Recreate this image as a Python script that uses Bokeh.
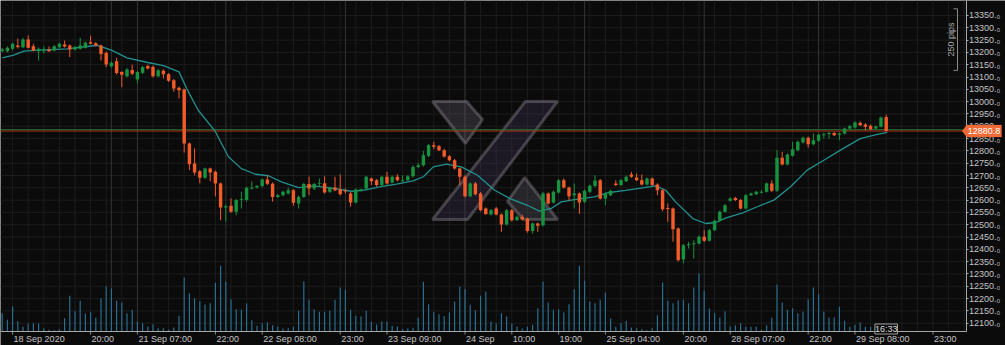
import math
from bokeh.plotting import figure
from bokeh.models import Range1d, FixedTicker, ColumnDataSource, Label, PolyAnnotation
from bokeh.core.properties import value
from bokeh.embed import file_html
from bokeh.resources import INLINE

# ---------------- data (hourly candles, 18 Sep 2020 -> 29 Sep 2020) ----------------
opens = [
    13206, 13205, 13215, 13228, 13221, 13252, 13225, 13205, 13207, 13211,
    13208, 13221, 13232, 13228, 13212, 13215, 13219, 13241, 13237, 13228,
    13198, 13144, 13164, 13120, 13103, 13129, 13090, 13117, 13145, 13141,
    13103, 13125, 13111, 13087, 13056, 13049, 12830, 12749, 12717, 12691,
    12728, 12715, 12668, 12570, 12577, 12553, 12602, 12600, 12647, 12651,
    12657, 12684, 12666, 12613, 12620, 12627, 12640, 12586, 12613, 12665,
    12647, 12667, 12669, 12634, 12651, 12643, 12639, 12627, 12590, 12638,
    12647, 12688, 12681, 12661, 12695, 12672, 12695, 12680, 12681, 12697,
    12735, 12742, 12780, 12823, 12819, 12803, 12778, 12762, 12728, 12695,
    12616, 12668, 12627, 12566, 12542, 12566, 12542, 12501, 12559, 12518,
    12532, 12525, 12475, 12505, 12498, 12627, 12590, 12631, 12681, 12651,
    12620, 12627, 12593, 12634, 12657, 12681, 12607, 12620, 12668, 12661,
    12677, 12704, 12692, 12681, 12663, 12688, 12663, 12640, 12568, 12566,
    12485, 12359, 12418, 12423, 12424, 12451, 12435, 12478, 12516, 12553,
    12597, 12609, 12600, 12566, 12620, 12624, 12632, 12634, 12668, 12638,
    12772, 12745, 12780, 12803, 12834, 12853, 12827, 12841, 12864, 12869,
    12873, 12866, 12871, 12891, 12895, 12914, 12907, 12902, 12891, 12898,
    12938,
]
highs = [
    13218, 13224, 13240, 13256, 13259, 13269, 13235, 13220, 13224, 13224,
    13230, 13240, 13248, 13232, 13226, 13259, 13244, 13269, 13242, 13232,
    13204, 13163, 13178, 13124, 13137, 13150, 13124, 13145, 13151, 13147,
    13133, 13131, 13116, 13092, 13061, 13053, 12834, 12810, 12722, 12732,
    12732, 12720, 12672, 12582, 12607, 12605, 12634, 12655, 12676, 12661,
    12688, 12701, 12672, 12625, 12639, 12651, 12645, 12619, 12670, 12695,
    12670, 12688, 12697, 12655, 12695, 12705, 12647, 12633, 12647, 12647,
    12698, 12692, 12686, 12699, 12715, 12700, 12705, 12701, 12702, 12742,
    12751, 12800, 12828, 12837, 12824, 12808, 12783, 12767, 12732, 12700,
    12672, 12674, 12633, 12570, 12564, 12572, 12546, 12564, 12564, 12538,
    12542, 12529, 12509, 12509, 12633, 12631, 12639, 12686, 12688, 12655,
    12668, 12631, 12643, 12663, 12701, 12686, 12631, 12643, 12681, 12686,
    12700, 12715, 12708, 12704, 12692, 12692, 12668, 12645, 12586, 12570,
    12489, 12422, 12431, 12437, 12456, 12478, 12483, 12521, 12558, 12584,
    12611, 12613, 12605, 12625, 12631, 12638, 12641, 12672, 12681, 12803,
    12796, 12789, 12837, 12842, 12858, 12858, 12871, 12871, 12873, 12877,
    12877, 12875, 12895, 12905, 12921, 12919, 12913, 12907, 12903, 12940,
    12948,
]
lows = [
    13200, 13200, 13208, 13216, 13218, 13216, 13204, 13167, 13196, 13202,
    13204, 13218, 13220, 13181, 13208, 13212, 13216, 13232, 13224, 13167,
    13140, 13139, 13110, 13059, 13098, 13108, 13074, 13112, 13131, 13098,
    13098, 13094, 13080, 13040, 13013, 12793, 12722, 12701, 12668, 12686,
    12676, 12615, 12518, 12513, 12548, 12539, 12566, 12594, 12643, 12647,
    12651, 12661, 12594, 12609, 12615, 12623, 12577, 12566, 12609, 12620,
    12641, 12654, 12627, 12629, 12636, 12619, 12627, 12573, 12586, 12635,
    12643, 12661, 12655, 12655, 12663, 12668, 12676, 12674, 12678, 12692,
    12730, 12736, 12775, 12807, 12799, 12773, 12758, 12724, 12661, 12611,
    12611, 12619, 12554, 12540, 12538, 12538, 12471, 12497, 12513, 12515,
    12517, 12468, 12464, 12471, 12493, 12582, 12586, 12627, 12647, 12598,
    12566, 12544, 12588, 12629, 12652, 12602, 12579, 12616, 12657, 12657,
    12674, 12690, 12678, 12659, 12659, 12657, 12620, 12555, 12512, 12431,
    12351, 12343, 12403, 12363, 12420, 12430, 12432, 12475, 12513, 12550,
    12594, 12596, 12562, 12562, 12617, 12621, 12627, 12631, 12633, 12633,
    12741, 12741, 12776, 12799, 12830, 12813, 12823, 12837, 12850, 12850,
    12860, 12843, 12866, 12887, 12891, 12901, 12883, 12884, 12887, 12895,
    12879,
]
closes = [
    13212, 13219, 13235, 13222, 13252, 13219, 13208, 13215, 13209, 13205,
    13225, 13235, 13224, 13212, 13221, 13228, 13239, 13235, 13228, 13194,
    13151, 13158, 13116, 13109, 13131, 13113, 13120, 13140, 13135, 13103,
    13128, 13111, 13085, 13053, 13046, 12830, 12746, 12712, 12691, 12728,
    12712, 12668, 12570, 12575, 12553, 12600, 12605, 12650, 12651, 12657,
    12684, 12666, 12613, 12620, 12634, 12640, 12589, 12613, 12665, 12647,
    12665, 12669, 12631, 12651, 12640, 12624, 12637, 12590, 12643, 12643,
    12695, 12677, 12661, 12695, 12668, 12695, 12681, 12681, 12697, 12735,
    12742, 12782, 12823, 12817, 12803, 12777, 12762, 12728, 12695, 12616,
    12668, 12624, 12559, 12544, 12559, 12542, 12501, 12559, 12518, 12532,
    12521, 12475, 12505, 12496, 12627, 12586, 12634, 12681, 12651, 12616,
    12627, 12590, 12638, 12658, 12680, 12607, 12627, 12638, 12661, 12681,
    12695, 12695, 12681, 12663, 12688, 12661, 12640, 12563, 12565, 12482,
    12356, 12417, 12421, 12425, 12451, 12435, 12478, 12516, 12553, 12579,
    12607, 12600, 12566, 12620, 12627, 12634, 12634, 12668, 12638, 12772,
    12745, 12785, 12807, 12837, 12853, 12827, 12843, 12866, 12868, 12873,
    12864, 12871, 12891, 12900, 12915, 12904, 12898, 12888, 12899, 12936,
    12880.8,
]
volumes = [
    1830, 1170, 2500, 1030, 470, 800, 830, 800, 300, 170,
    130, 230, 1330, 3570, 2030, 3070, 1800, 1930, 1370, 3330,
    4500, 4300, 3070, 2900, 1830, 2170, 1000, 830, 500, 730,
    330, 330, 170, 400, 1570, 5400, 3830, 3330, 3030, 2700,
    2830, 4870, 6570, 4970, 3230, 2230, 2170, 2830, 1130, 570,
    830, 900, 630, 500, 300, 330, 470, 2070, 5000, 3170,
    2230, 1970, 1970, 2070, 3170, 4400, 4170, 2170, 1570, 1500,
    2070, 970, 700, 1000, 1000, 570, 500, 230, 300, 370,
    1370, 4970, 2730, 1970, 1730, 1530, 1900, 3000, 4500, 4230,
    2670, 2130, 3570, 4000, 1000, 800, 1830, 1500, 800, 500,
    300, 470, 670, 2330, 5000, 2900, 2170, 2230, 1900, 2730,
    4230, 6570, 5070, 3000, 2830, 3170, 3900, 1300, 470, 830,
    1070, 400, 330, 230, 130, 330, 1630, 4900, 3070, 2830,
    3130, 3170, 2830, 4400, 5830, 4070, 2300, 1870, 1400, 2030,
    500, 630, 830, 470, 470, 470, 170, 630, 1370, 4700,
    2900, 2170, 2330, 1830, 2000, 3230, 4400, 3730, 2000, 1400,
    1430, 2470, 1070, 470, 670, 900, 470, 470, 500, 500,
    300,
]
# moving average (candle index, value)
ma_x = [0, 2.2, 4.2, 6, 12.5, 18.3, 21, 24, 28, 31, 34, 35.5, 37.7, 41, 43.5, 46, 48.7,
        51.2, 53.7, 57, 59.8, 63, 67.2, 69.4, 72.6, 75.8, 79, 81, 82.9, 85.4, 88.3,
        91.4, 94.7, 97.9, 101, 103.3, 105.6, 107.5, 110.6, 113.9, 116.7, 119.9, 125.7,
        127.6, 129.5, 132.8, 135.3, 137.2, 139.2, 142.4, 145.2, 148.4, 151.6, 154.8,
        158, 161.2, 165, 168.3, 170.2]
ma_val = [13178, 13189, 13205, 13208, 13214, 13229, 13209, 13178, 13159, 13146, 13121,
          13052, 12965, 12878, 12776, 12728, 12705, 12699, 12674, 12651, 12658, 12650,
          12636, 12640, 12654, 12665, 12678, 12695, 12735, 12746, 12735, 12701, 12640,
          12604, 12579, 12555, 12566, 12593, 12604, 12613, 12631, 12640, 12658, 12640,
          12593, 12525, 12505, 12509, 12528, 12548, 12573, 12600, 12654, 12722, 12762,
          12803, 12850, 12867, 12875]
tick_idx = [2, 17, 26, 41, 50, 65, 74, 89, 98, 107, 116, 131, 140, 155, 164, 179]
tick_labels = ["18 Sep 2020", "20:00", "21 Sep 07:00", "22:00", "22 Sep 08:00", "23:00",
               "23 Sep 09:00", "24 Sep", "10:00", "19:00", "25 Sep 04:00", "20:00",
               "28 Sep 07:00", "22:00", "29 Sep 08:00", "23:00"]
session_idx = [21, 26, 43, 66, 89, 112, 135, 157]
price_ticks = list(range(12100, 13351, 50))
last_price = 12880.8
ask_price = 12886.5
last_time = "16:33"
pips_top = 13377
pips = 250

# ---------------- style / layout ----------------
BG = "#0b0b0b"
UP = "#17933f"
DOWN = "#f25c2a"
MA = "#21908f"
VOL = "#2a6d8e"
GRID = "#1c1c1c"
SESS = "#333333"
TXT = "#c4c4c4"
AXIS = "#a8a8a8"
FONT = "Liberation Sans"
FS = 9  # px

W, H = 1005, 345
PX0, PXS = 1.7, 5.2          # pixel of candle 0, pixels per candle
AX_X, AX_Y = 965.5, 331      # pixel position of the price axis and time axis
Y_TOP = 13410.85
PPP = 4.062                  # price units per pixel

def px2x(px):
    return (px - PX0) / PXS

def py2y(py):
    return Y_TOP - py * PPP

# approximate Arial/Liberation Sans advance widths (per 1000 em)
_CW = {" ": 278, ":": 278, ".": 278, "S": 667, "e": 556, "p": 556}
def text_w(s):
    return sum(_CW.get(ch, 556) for ch in s) * FS / 1000.0

n = len(opens)
idx = list(range(n))
colors = [UP if c >= o else DOWN for o, c in zip(opens, closes)]
btop = [max(o, c) for o, c in zip(opens, closes)]
bbot = [min(min(o, c), max(o, c) - 4) for o, c in zip(opens, closes)]
src = ColumnDataSource(dict(x=idx, h=highs, l=lows, top=btop, bot=bbot, color=colors,
                            vol=volumes, zero=[0] * n))

p = figure(width=W, height=H, output_backend="svg", toolbar_location=None,
           x_range=Range1d(px2x(0), px2x(W)), y_range=Range1d(py2y(H), Y_TOP),
           x_axis_location="below", y_axis_location="right",
           background_fill_color=BG, border_fill_color=BG, outline_line_color=None,
           min_border=0)
p.extra_y_ranges = {"vol": Range1d(-(H - AX_Y) * 100, AX_Y * 100)}
p.xgrid.visible = False
p.ygrid.visible = False

x_left, x_axis = px2x(0), px2x(AX_X)
y_axis, y_top = py2y(AX_Y), Y_TOP

# grid lines
vg = list(range(-1, 187, 3))
p.segment(vg, [y_axis] * len(vg), vg, [y_top] * len(vg), line_color=GRID, line_width=1)
p.segment([x_left] * len(price_ticks), price_ticks, [x_axis] * len(price_ticks), price_ticks,
          line_color=GRID, line_width=1)
p.segment(session_idx, [y_axis] * len(session_idx), session_idx, [y_top] * len(session_idx),
          line_color=SESS, line_width=1)

# price axis (right)
ya = p.yaxis[0]
ya.fixed_location = x_axis
ya.bounds = (y_axis, y_top)
ya.ticker = FixedTicker(ticks=price_ticks)
ya.major_label_overrides = {t: f"{t}.\u2080" for t in price_ticks}
ya.major_label_text_font = FONT
ya.major_label_text_font_size = f"{FS}px"
ya.major_label_text_color = TXT
ya.axis_line_color = AXIS
ya.major_tick_line_color = AXIS
ya.major_tick_out = 2
ya.major_tick_in = 0
ya.minor_tick_out = 0
ya.minor_tick_in = 0
ya.major_label_standoff = 1

# time axis (bottom): labels start at their tick, so each label is centred half its width right
label_pos = [t + (1 + text_w(s) / 2) / PXS for t, s in zip(tick_idx, tick_labels)]
xa = p.xaxis[0]
xa.fixed_location = y_axis
xa.bounds = (x_left, x_axis)
xa.ticker = FixedTicker(ticks=label_pos)
xa.major_label_overrides = {pos: s for pos, s in zip(label_pos, tick_labels)}
xa.major_label_text_font = FONT
xa.major_label_text_font_size = f"{FS}px"
xa.major_label_text_color = TXT
xa.axis_line_color = AXIS
xa.major_tick_out = 0
xa.major_tick_in = 0
xa.minor_tick_out = 0
xa.minor_tick_in = 0
xa.major_label_standoff = 2
# tick marks at the real tick positions
p.segment(tick_idx, [y_axis] * len(tick_idx), tick_idx, [py2y(AX_Y + 3)] * len(tick_idx),
          line_color="#8a8a8a", line_width=1)

# watermark logo
logo_fill = ["#5e5a68", "#4a3d66", "#5e5a68"]
logo_alpha = [0.35, 0.27, 0.33]
logo_px = [
    [(432, 101), (466, 101), (482, 119), (465, 143)],
    [(525, 101), (557, 101), (467, 219), (432, 219)],
    [(557, 219), (523, 219), (507, 201), (524, 177)],
]
p.patches([[px2x(a) for a, b in poly] for poly in logo_px],
          [[py2y(b) for a, b in poly] for poly in logo_px],
          fill_color=logo_fill, fill_alpha=logo_alpha, line_color="#8a8690",
          line_alpha=0.42, line_width=3)

# volume
p.segment("x", "zero", "x", "vol", source=src, y_range_name="vol",
          line_color=VOL, line_width=1.2)

# price lines
p.segment([x_left, x_left], [ask_price, last_price], [px2x(962), px2x(962)],
          [ask_price, last_price], line_color=["#1f6a32", "#b13c1c"], line_width=1)

# moving average
p.line(ma_x, ma_val, line_color=MA, line_width=1.3)

# candles
p.segment("x", "h", "x", "l", source=src, line_color="color", line_width=1)
p.vbar(x="x", width=0.66, top="top", bottom="bot", source=src,
       fill_color="color", line_color=None)

# 250 pips bracket
bx, bt = px2x(957), px2x(953)
p.segment([bx, bt, bt], [pips_top, pips_top, pips_top - pips],
          [bx, bx, bx], [pips_top - pips, pips_top, pips_top - pips],
          line_color="#8a8a8a", line_width=1)
p.text(x=[px2x(950)], y=[pips_top - pips / 2], text=[f"{pips} pips"], angle=math.pi / 2,
       text_align="center", text_baseline="middle", text_font=value(FONT),
       text_font_size=f"{FS}px", text_color="#a8a8a8")

# last price tag
hh = 6 * PPP
p.add_layout(PolyAnnotation(xs=[961.5, 966.5, 1001, 1001, 966.5],
                            ys=[last_price, last_price + hh, last_price + hh,
                                last_price - hh, last_price - hh],
                            xs_units="screen", ys_units="data",
                            fill_color="#f26a35", fill_alpha=1, line_color="#f26a35"))
p.add_layout(Label(x=983.5, y=last_price, x_units="screen", y_units="data",
                   text=f"{last_price}", text_align="center", text_baseline="middle",
                   text_font=FONT, text_font_size=f"{FS}px", text_color="#ffffff"))

# last time tag
p.add_layout(Label(x=n - 1, y=py2y(AX_Y - 2.5), x_units="data", y_units="data",
                   text=last_time, text_align="center", text_baseline="middle",
                   text_font=FONT, text_font_size=f"{FS}px", text_color="#dddddd",
                   background_fill_color=BG, border_line_color="#a0a0a0"))

open("out.html", "w").write(file_html(p, INLINE))
